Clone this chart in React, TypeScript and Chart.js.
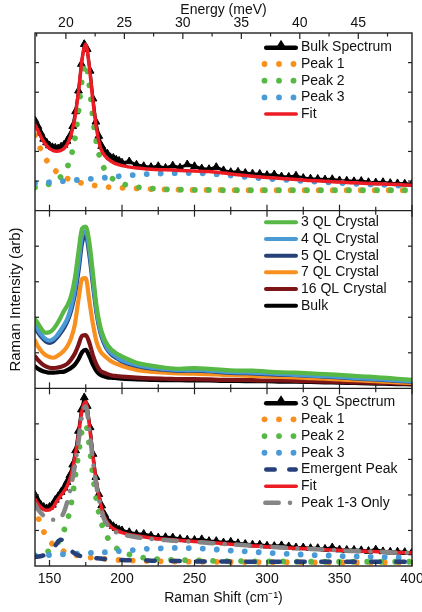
import React, { useEffect, useRef } from 'react';
import { Chart, registerables } from 'chart.js';

Chart.register(...registerables);

const FONT = "'Liberation Sans', Arial, Helvetica, sans-serif";

// ---------- axes ----------
const X_TICKS = [150, 175, 200, 225, 250, 275, 300, 325, 350, 375, 400];
const X_LABELS = [150, 200, 250, 300, 350, 400];
const E_TICKS = [17.5, 20, 22.5, 25, 27.5, 30, 32.5, 35, 37.5, 40, 42.5, 45, 47.5];
const E_LABELS = [20, 25, 30, 35, 40, 45];
const CM_PER_MEV = 8.0655;
const X_MIN = 140;
const X_MAX = 400;

// ---------- x grids ----------
const X_FINE = [140, 142, 144, 146, 148, 150, 152, 154, 156, 158, 160, 162, 164, 166, 168, 170, 172, 174, 176, 178, 180, 182, 184, 186, 188, 190, 192, 194, 196, 198, 200,
  205, 210, 215, 220, 225, 230, 235, 240, 245, 250, 255, 260, 265, 270, 275, 280, 285, 290, 295, 300, 305, 310, 315, 320, 325, 330, 335, 340, 345, 350, 355, 360, 365, 370, 375, 380, 385, 390, 395, 400];
const X_COARSE = [140, 142.5, 145, 147.5, 150, 152.5, 155, 157.5, 160, 162.5, 165, 167.5, 170, 172.5, 175, 177.5, 180, 182.5, 185, 187.5, 190, 192.5, 195, 197.5, 200,
  210, 220, 230, 240, 250, 260, 270, 280, 290, 300, 310, 320, 330, 340, 350, 360, 370, 380, 390, 400];

// ---------- panel 1 : bulk ----------
const BULK_SPECTRUM = [3.05, 2.85, 2.62, 2.42, 2.30, 2.20, 2.14, 2.12, 2.10, 2.16, 2.22, 2.35, 2.52, 2.85, 3.35, 4.05, 4.95, 5.62, 5.45, 4.72, 3.78, 3.00, 2.52, 2.18, 2.00, 1.92, 1.80, 1.78, 1.72, 1.68, 1.62,
  1.66, 1.55, 1.50, 1.47, 1.50, 1.44, 1.52, 1.45, 1.56, 1.50, 1.42, 1.40, 1.47, 1.36, 1.30, 1.31, 1.27, 1.25, 1.24, 1.20, 1.22, 1.15, 1.14, 1.18, 1.10, 1.08, 1.07, 1.05, 1.06, 1.02, 1.01, 0.99, 1.00, 0.96, 0.95, 0.96, 0.93, 0.92, 0.91, 0.90];
const BULK_PEAK1 = [2.55, 2.23, 1.96, 1.74, 1.56, 1.42, 1.31, 1.22, 1.14, 1.08, 1.03, 0.99, 0.96, 0.93, 0.90, 0.88, 0.86, 0.84, 0.83, 0.82, 0.80, 0.79, 0.79, 0.78, 0.77,
  0.75, 0.73, 0.72, 0.71, 0.70, 0.70, 0.70, 0.69, 0.69, 0.69, 0.69, 0.69, 0.69, 0.69, 0.69, 0.69, 0.69, 0.69, 0.69, 0.69];
const BULK_PEAK2 = [0.79, 0.80, 0.83, 0.86, 0.90, 0.95, 1.03, 1.13, 1.28, 1.50, 1.86, 2.43, 3.34, 4.47, 4.97, 4.21, 3.09, 2.27, 1.75, 1.44, 1.25, 1.12, 1.03, 0.96, 0.91,
  0.80, 0.75, 0.72, 0.71, 0.70, 0.70, 0.69, 0.69, 0.69, 0.69, 0.69, 0.69, 0.69, 0.69, 0.69, 0.69, 0.69, 0.69, 0.69, 0.69];
const BULK_PEAK3 = [0.93, 0.935, 0.94, 0.95, 0.96, 0.97, 0.98, 0.99, 1.00, 1.01, 1.02, 1.03, 1.04, 1.05, 1.06, 1.07, 1.08, 1.09, 1.10, 1.11, 1.12, 1.13, 1.15, 1.16, 1.17,
  1.21, 1.24, 1.26, 1.27, 1.27, 1.25, 1.21, 1.16, 1.12, 1.08, 1.05, 1.02, 0.99, 0.96, 0.94, 0.91, 0.89, 0.87, 0.85, 0.83];
const BULK_FIT = [2.90, 2.66, 2.41, 2.23, 2.10, 2.03, 2.01, 2.03, 2.10, 2.27, 2.59, 3.13, 4.02, 5.13, 5.62, 4.84, 3.68, 2.75, 2.15, 1.90, 1.76, 1.67, 1.60, 1.56, 1.52,
  1.44, 1.40, 1.38, 1.36, 1.34, 1.32, 1.27, 1.21, 1.16, 1.12, 1.09, 1.05, 1.02, 0.99, 0.97, 0.94, 0.92, 0.90, 0.88, 0.86];

// ---------- panel 2 : thickness series ----------
const QL3_CRYSTAL = [1.95, 1.80, 1.64, 1.56, 1.58, 1.66, 1.80, 1.98, 2.18, 2.35, 2.62, 3.10, 3.85, 4.50, 4.55, 4.10, 3.22, 2.30, 1.74, 1.42, 1.22, 1.10, 1.02, 0.95, 0.90,
  0.72, 0.64, 0.58, 0.55, 0.57, 0.55, 0.52, 0.50, 0.50, 0.47, 0.45, 0.44, 0.42, 0.40, 0.38, 0.35, 0.33, 0.30, 0.27, 0.24];
const QL4_CRYSTAL = [1.80, 1.62, 1.48, 1.38, 1.34, 1.38, 1.48, 1.62, 1.78, 1.98, 2.30, 2.80, 3.50, 4.30, 4.42, 3.90, 3.02, 2.18, 1.64, 1.33, 1.12, 1.00, 0.92, 0.85, 0.79,
  0.66, 0.58, 0.54, 0.51, 0.52, 0.50, 0.47, 0.45, 0.44, 0.42, 0.40, 0.38, 0.36, 0.34, 0.32, 0.29, 0.27, 0.25, 0.22, 0.20];
const QL5_CRYSTAL = [1.72, 1.55, 1.42, 1.32, 1.28, 1.32, 1.42, 1.55, 1.70, 1.90, 2.20, 2.65, 3.30, 4.10, 4.30, 3.75, 2.90, 2.10, 1.58, 1.28, 1.08, 0.96, 0.88, 0.82, 0.76,
  0.63, 0.56, 0.52, 0.49, 0.50, 0.48, 0.45, 0.43, 0.42, 0.40, 0.38, 0.37, 0.35, 0.33, 0.31, 0.28, 0.26, 0.24, 0.21, 0.19];
const QL7_CRYSTAL = [1.35, 1.15, 1.02, 0.93, 0.88, 0.86, 0.90, 0.97, 1.06, 1.20, 1.42, 1.80, 2.50, 3.08, 3.10, 2.45, 1.80, 1.30, 1.05, 0.93, 0.84, 0.76, 0.71, 0.67, 0.63,
  0.52, 0.47, 0.44, 0.42, 0.41, 0.40, 0.38, 0.37, 0.35, 0.34, 0.32, 0.31, 0.29, 0.27, 0.25, 0.23, 0.21, 0.19, 0.17, 0.15];
const QL16_CRYSTAL = [0.90, 0.78, 0.68, 0.62, 0.58, 0.57, 0.58, 0.60, 0.64, 0.70, 0.82, 0.98, 1.22, 1.48, 1.50, 1.28, 0.92, 0.66, 0.50, 0.44, 0.40, 0.37, 0.35, 0.34, 0.33,
  0.30, 0.28, 0.27, 0.26, 0.26, 0.25, 0.24, 0.24, 0.23, 0.22, 0.22, 0.21, 0.20, 0.19, 0.18, 0.17, 0.16, 0.15, 0.14, 0.13];
const BULK_CRYSTAL = [0.62, 0.54, 0.49, 0.46, 0.44, 0.44, 0.45, 0.46, 0.47, 0.52, 0.58, 0.67, 0.82, 1.02, 1.08, 0.90, 0.66, 0.48, 0.38, 0.34, 0.31, 0.30, 0.29, 0.28, 0.27,
  0.25, 0.24, 0.23, 0.23, 0.22, 0.22, 0.21, 0.21, 0.20, 0.20, 0.19, 0.19, 0.18, 0.17, 0.16, 0.15, 0.14, 0.13, 0.12, 0.11];

// ---------- panel 3 : 3 QL ----------
const QL3_SPECTRUM = [2.00, 1.84, 1.72, 1.66, 1.62, 1.66, 1.72, 1.86, 1.96, 2.08, 2.20, 2.36, 2.55, 2.85, 3.25, 3.80, 4.40, 4.74, 4.50, 3.90, 3.15, 2.50, 2.02, 1.70, 1.45, 1.28, 1.18, 1.12, 1.06, 1.02, 1.00,
  0.95, 0.90, 0.90, 0.85, 0.80, 0.81, 0.80, 0.76, 0.74, 0.73, 0.75, 0.70, 0.70, 0.66, 0.68, 0.64, 0.62, 0.60, 0.60, 0.57, 0.56, 0.58, 0.55, 0.52, 0.52, 0.50, 0.50, 0.48, 0.52, 0.46, 0.45, 0.45, 0.44, 0.42, 0.46, 0.41, 0.40, 0.40, 0.39, 0.38];
const QL3_PEAK1 = [1.70, 1.33, 1.05, 0.86, 0.71, 0.60, 0.52, 0.46, 0.41, 0.37, 0.34, 0.31, 0.29, 0.27, 0.26, 0.24, 0.23, 0.22, 0.21, 0.20, 0.19, 0.185, 0.18, 0.17, 0.165,
  0.15, 0.14, 0.13, 0.125, 0.12, 0.12, 0.115, 0.11, 0.11, 0.11, 0.105, 0.105, 0.10, 0.10, 0.10, 0.10, 0.10, 0.10, 0.10, 0.10];
const QL3_PEAK2 = [0.28, 0.31, 0.34, 0.38, 0.43, 0.51, 0.62, 0.76, 1.00, 1.30, 1.75, 2.42, 3.15, 3.82, 3.98, 3.38, 2.52, 1.82, 1.33, 1.01, 0.80, 0.65, 0.54, 0.46, 0.40,
  0.27, 0.21, 0.18, 0.17, 0.16, 0.15, 0.14, 0.14, 0.13, 0.13, 0.13, 0.12, 0.12, 0.12, 0.12, 0.12, 0.12, 0.12, 0.12, 0.12];
const QL3_PEAK3 = [0.30, 0.30, 0.31, 0.31, 0.31, 0.32, 0.32, 0.33, 0.33, 0.34, 0.34, 0.35, 0.35, 0.36, 0.36, 0.37, 0.37, 0.38, 0.38, 0.39, 0.39, 0.40, 0.41, 0.42, 0.42,
  0.46, 0.49, 0.50, 0.51, 0.50, 0.48, 0.45, 0.42, 0.40, 0.37, 0.35, 0.33, 0.31, 0.30, 0.28, 0.27, 0.26, 0.25, 0.24, 0.23];
const QL3_EMERGENT = [0.26, 0.27, 0.29, 0.32, 0.38, 0.48, 0.63, 0.74, 0.70, 0.56, 0.43, 0.35, 0.30, 0.27, 0.25, 0.24, 0.23, 0.22, 0.21, 0.20, 0.19, 0.19, 0.18, 0.18, 0.17,
  0.16, 0.15, 0.14, 0.14, 0.13, 0.13, 0.13, 0.12, 0.12, 0.12, 0.12, 0.12, 0.12, 0.12, 0.12, 0.12, 0.12, 0.12, 0.12, 0.12];
const QL3_FIT = [1.88, 1.72, 1.62, 1.57, 1.58, 1.66, 1.82, 1.97, 2.10, 2.28, 2.58, 3.05, 3.68, 4.38, 4.62, 3.95, 3.05, 2.32, 1.80, 1.42, 1.22, 1.10, 1.03, 0.98, 0.94,
  0.85, 0.79, 0.75, 0.72, 0.69, 0.66, 0.63, 0.60, 0.57, 0.54, 0.52, 0.50, 0.48, 0.46, 0.44, 0.42, 0.41, 0.40, 0.38, 0.37];
const QL3_PEAK13 = [1.74, 1.57, 1.45, 1.37, 1.32, 1.30, 1.31, 1.35, 1.52, 1.84, 2.27, 2.82, 3.50, 4.23, 4.49, 3.83, 2.94, 2.22, 1.71, 1.34, 1.15, 1.03, 0.97, 0.92, 0.89,
  0.81, 0.76, 0.73, 0.70, 0.68, 0.65, 0.62, 0.60, 0.57, 0.54, 0.52, 0.50, 0.48, 0.46, 0.44, 0.42, 0.41, 0.40, 0.38, 0.37];

// ---------- colours ----------
const BLACK = '#000000';
const GREEN = '#57B846';
const ORANGE = '#F7901E';
const LBLUE = '#4A9AD6';
const NAVY = '#27407A';
const DARKRED = '#7D1518';
const RED = '#ED1C24';
const GRAY = '#858585';
const FRAME = '#222222';

const pts = (xs: number[], ys: number[]) => xs.map((x, i) => ({ x, y: ys[i] }));

const spectrum = (label: string, ys: number[], yAxisID: string, order: number) => ({
  label, data: pts(X_FINE, ys), yAxisID, xAxisID: 'x', order,
  borderColor: BLACK, borderWidth: 3, tension: 0, fill: false,
  pointStyle: 'triangle', pointRadius: 4.5, pointBackgroundColor: BLACK, pointBorderColor: BLACK, pointBorderWidth: 1,
});
const dotted = (label: string, color: string, ys: number[], yAxisID: string, order: number) => ({
  label, data: pts(X_COARSE, ys), yAxisID, xAxisID: 'x', order,
  borderColor: color, borderWidth: 5.8, borderDash: [0.01, 14], borderCapStyle: 'round', borderJoinStyle: 'round',
  cubicInterpolationMode: 'monotone', pointRadius: 0, fill: false,
});
const solid = (label: string, color: string, ys: number[], yAxisID: string, order: number, width: number) => ({
  label, data: pts(X_COARSE, ys), yAxisID, xAxisID: 'x', order,
  borderColor: color, borderWidth: width, borderCapStyle: 'round', borderJoinStyle: 'round',
  cubicInterpolationMode: 'monotone', pointRadius: 0, fill: false,
});
const dashed = (label: string, color: string, ys: number[], yAxisID: string, order: number, dash: number[]) => ({
  label, data: pts(X_COARSE, ys), yAxisID, xAxisID: 'x', order,
  borderColor: color, borderWidth: 4.5, borderDash: dash, borderCapStyle: 'round', borderJoinStyle: 'round',
  cubicInterpolationMode: 'monotone', pointRadius: 0, fill: false,
});

const LEGENDS = [
  { axis: 'y1', first: 14.3, items: [
    { text: 'Bulk Spectrum', kind: 'tri', color: BLACK },
    { text: 'Peak 1', kind: 'dots', color: ORANGE },
    { text: 'Peak 2', kind: 'dots', color: GREEN },
    { text: 'Peak 3', kind: 'dots', color: LBLUE },
    { text: 'Fit', kind: 'line', color: RED },
  ] },
  { axis: 'y2', first: 11.6, items: [
    { text: '3 QL Crystal', kind: 'thick', color: GREEN },
    { text: '4 QL Crystal', kind: 'thick', color: LBLUE },
    { text: '5 QL Crystal', kind: 'thick', color: NAVY },
    { text: '7 QL Crystal', kind: 'thick', color: ORANGE },
    { text: '16 QL Crystal', kind: 'thick', color: DARKRED },
    { text: 'Bulk', kind: 'thick', color: BLACK },
  ] },
  { axis: 'y3', first: 14.3, items: [
    { text: '3 QL Spectrum', kind: 'tri', color: BLACK },
    { text: 'Peak 1', kind: 'dots', color: ORANGE },
    { text: 'Peak 2', kind: 'dots', color: GREEN },
    { text: 'Peak 3', kind: 'dots', color: LBLUE },
    { text: 'Emergent Peak', kind: 'dash', color: NAVY },
    { text: 'Fit', kind: 'line', color: RED },
    { text: 'Peak 1-3 Only', kind: 'dashdot', color: GRAY },
  ] },
];

function seg(ctx: CanvasRenderingContext2D, x1: number, y1: number, x2: number, y2: number) {
  ctx.beginPath();
  ctx.moveTo(x1, y1);
  ctx.lineTo(x2, y2);
  ctx.stroke();
}
function dot(ctx: CanvasRenderingContext2D, x: number, y: number, r: number) {
  ctx.beginPath();
  ctx.arc(x, y, r, 0, Math.PI * 2);
  ctx.fill();
}

const framePlugin = {
  id: 'frameTicks',
  afterDatasetsDraw(chart: any) {
    const { ctx, chartArea: ca, scales } = chart;
    const xs = scales.x;
    const xe = scales.x2;
    const panels = [scales.y1, scales.y2, scales.y3];
    ctx.save();
    ctx.strokeStyle = FRAME;
    ctx.lineWidth = 1.4;
    ctx.lineCap = 'butt';
    ctx.strokeRect(ca.left, ca.top, ca.right - ca.left, ca.bottom - ca.top);
    panels.slice(1).forEach((p: any) => seg(ctx, ca.left, p.top, ca.right, p.top));
    ctx.lineWidth = 1.2;
    panels.forEach((p: any, idx: number) => {
      X_TICKS.forEach((v) => {
        const px = xs.getPixelForValue(v);
        const len = X_LABELS.includes(v) ? 6 : 4;
        if (idx > 0) seg(ctx, px, p.top, px, p.top + len);
        seg(ctx, px, p.bottom, px, p.bottom - len);
      });
      for (let v = 1; v < p.max; v++) {
        const py = p.getPixelForValue(v);
        seg(ctx, ca.left, py, ca.left + 4, py);
        seg(ctx, ca.right, py, ca.right - 4, py);
      }
    });
    E_TICKS.forEach((v) => {
      const px = xe.getPixelForValue(v);
      const len = E_LABELS.includes(v) ? 6 : 3.5;
      seg(ctx, px, ca.top, px, ca.top + len);
    });
    ctx.restore();
  },
};

const legendPlugin = {
  id: 'panelLegends',
  afterDraw(chart: any) {
    const { ctx, chartArea: ca, scales } = chart;
    const x0 = ca.right - 148;
    const x1 = ca.right - 114;
    const tx = ca.right - 111;
    ctx.save();
    LEGENDS.forEach((lg) => {
      const sc = scales[lg.axis];
      lg.items.forEach((it, i) => {
        const y = sc.top + lg.first + i * 16.7;
        ctx.strokeStyle = it.color;
        ctx.fillStyle = it.color;
        ctx.lineCap = 'round';
        if (it.kind === 'tri') {
          ctx.lineWidth = 4.5;
          seg(ctx, x0 + 2.2, y + 0.5, x1 - 2.2, y + 0.5);
          const cx = (x0 + x1) / 2;
          ctx.beginPath();
          ctx.moveTo(cx, y - 7.5);
          ctx.lineTo(cx - 5, y + 0.5);
          ctx.lineTo(cx + 5, y + 0.5);
          ctx.closePath();
          ctx.fill();
        } else if (it.kind === 'dots') {
          dot(ctx, x0 + 0.5, y, 2.9);
          dot(ctx, x0 + 15, y, 2.9);
          dot(ctx, x0 + 29.5, y, 2.9);
        } else if (it.kind === 'line') {
          ctx.lineWidth = 3.5;
          seg(ctx, x0 + 1.8, y, x1 - 1.8, y);
        } else if (it.kind === 'thick') {
          ctx.lineWidth = 4;
          seg(ctx, x0 + 2, y, x1 - 2, y);
        } else if (it.kind === 'dash') {
          ctx.lineWidth = 4.5;
          seg(ctx, x0 + 2.3, y, x0 + 10.7, y);
          seg(ctx, x0 + 25.3, y, x1 - 2.3, y);
        } else if (it.kind === 'dashdot') {
          ctx.lineWidth = 4.5;
          seg(ctx, x0 + 1.3, y, x0 + 14.7, y);
          dot(ctx, x0 + 26, y, 2.3);
        }
        ctx.fillStyle = '#111111';
        ctx.font = `14px ${FONT}`;
        ctx.textAlign = 'left';
        ctx.textBaseline = 'middle';
        ctx.fillText(it.text, tx, y);
      });
    });
    ctx.restore();
  },
};

const hiddenY = (max: number, weight: number, extra: any = {}) => ({
  type: 'linear', position: 'left', stack: 'panels', stackWeight: 1, weight, min: 0, max,
  ticks: { display: false }, grid: { display: false, drawTicks: false }, border: { display: false },
  afterFit: (s: any) => { s.width = 35; s.paddingTop = 0; s.paddingBottom = 0; },
  ...extra,
});

export default function App() {
  const ref = useRef<HTMLCanvasElement>(null);
  useEffect(() => {
    const datasets: any[] = [
      // panel 1
      solid('Fit', RED, BULK_FIT, 'y1', 0, 3.5),
      dotted('Peak 3', LBLUE, BULK_PEAK3, 'y1', 1),
      dotted('Peak 2', GREEN, BULK_PEAK2, 'y1', 2),
      dotted('Peak 1', ORANGE, BULK_PEAK1, 'y1', 3),
      spectrum('Bulk Spectrum', BULK_SPECTRUM, 'y1', 4),
      // panel 2
      solid('3 QL Crystal', GREEN, QL3_CRYSTAL, 'y2', 0, 4.2),
      solid('4 QL Crystal', LBLUE, QL4_CRYSTAL, 'y2', 1, 4.2),
      solid('5 QL Crystal', NAVY, QL5_CRYSTAL, 'y2', 2, 4.2),
      solid('7 QL Crystal', ORANGE, QL7_CRYSTAL, 'y2', 3, 4.2),
      solid('16 QL Crystal', DARKRED, QL16_CRYSTAL, 'y2', 4, 4.2),
      solid('Bulk', BLACK, BULK_CRYSTAL, 'y2', 5, 4.2),
      // panel 3
      dashed('Peak 1-3 Only', GRAY, QL3_PEAK13, 'y3', 0, [13.5, 11.5, 0.01, 11.5]),
      solid('Fit ', RED, QL3_FIT, 'y3', 1, 3.5),
      dashed('Emergent Peak', NAVY, QL3_EMERGENT, 'y3', 2, [8.5, 16.5]),
      dotted('Peak 3 ', LBLUE, QL3_PEAK3, 'y3', 3),
      dotted('Peak 2 ', GREEN, QL3_PEAK2, 'y3', 4),
      dotted('Peak 1 ', ORANGE, QL3_PEAK1, 'y3', 5),
      spectrum('3 QL Spectrum', QL3_SPECTRUM, 'y3', 6),
    ];
    const chart = new Chart(ref.current as HTMLCanvasElement, {
      type: 'line',
      data: { datasets },
      options: {
        responsive: false,
        animation: false,
        devicePixelRatio: 1,
        events: [],
        layout: { padding: { left: 0, right: 10, top: 0, bottom: 0 } },
        plugins: { legend: { display: false }, tooltip: { enabled: false }, title: { display: false } },
        scales: {
          x: {
            type: 'linear', position: 'bottom', min: X_MIN, max: X_MAX,
            afterBuildTicks: (s: any) => { s.ticks = X_LABELS.map((v) => ({ value: v })); },
            afterFit: (s: any) => { s.height = 46; s.paddingLeft = 0; s.paddingRight = 0; },
            grid: { display: false, drawTicks: false }, border: { display: false },
            ticks: { padding: 5, color: '#111', font: { size: 14, family: FONT }, maxRotation: 0, autoSkip: false },
            title: { display: true, text: 'Raman Shift (cm⁻¹)', color: '#111', font: { size: 14, family: FONT }, padding: { top: 0, bottom: 5 } },
          },
          x2: {
            type: 'linear', position: 'top', min: X_MIN / CM_PER_MEV, max: X_MAX / CM_PER_MEV,
            afterBuildTicks: (s: any) => { s.ticks = E_LABELS.map((v) => ({ value: v })); },
            afterFit: (s: any) => { s.height = 33; s.paddingLeft = 0; s.paddingRight = 0; },
            grid: { display: false, drawTicks: false }, border: { display: false },
            ticks: { padding: 1, color: '#111', font: { size: 14, family: FONT }, maxRotation: 0, autoSkip: false },
            title: { display: true, text: 'Energy (meV)', color: '#111', font: { size: 14, family: FONT }, padding: { top: 2, bottom: 0 } },
          },
          y1: hiddenY(6, 3),
          y2: hiddenY(5, 2, { title: { display: true, text: 'Raman Intensity (arb)', color: '#111', font: { size: 15, family: FONT }, padding: { top: 7, bottom: 0 } } }),
          y3: hiddenY(5, 1),
        },
      } as any,
      plugins: [framePlugin, legendPlugin],
    } as any);
    return () => chart.destroy();
  }, []);
  return (
    <div style={{ position: 'absolute', left: 0, top: 0, width: 422, height: 612, background: '#fff' }}>
      <canvas ref={ref} width={422} height={612} style={{ display: 'block', width: 422, height: 612 }} />
    </div>
  );
}
